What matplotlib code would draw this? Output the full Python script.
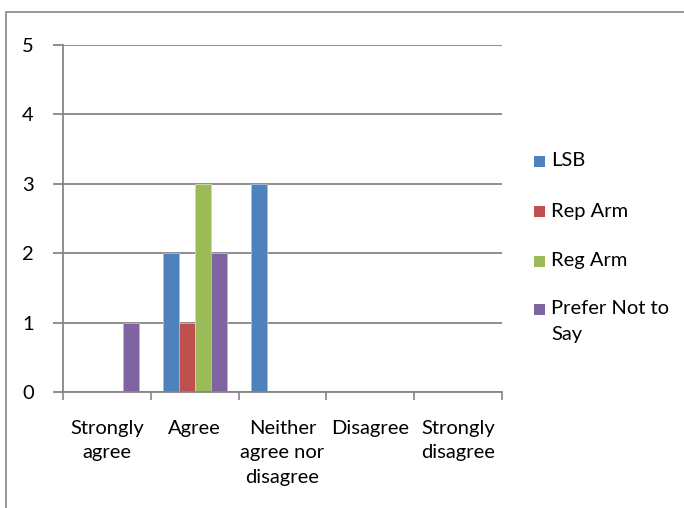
import matplotlib.pyplot as plt
import numpy as np
from matplotlib.patches import Rectangle

categories = ["Strongly\nagree", "Agree", "Neither\nagree nor\ndisagree", "Disagree", "Strongly\ndisagree"]
series_names = ["LSB", "Rep Arm", "Reg Arm", "Prefer Not to\nSay"]
lsb = [0, 2, 3, 0, 0]
rep_arm = [0, 1, 0, 0, 0]
reg_arm = [0, 3, 0, 0, 0]
prefer_not = [1, 2, 0, 0, 0]
colors = ["#4F81BD", "#C0504D", "#9BBB59", "#8064A2"]
edge_colors = ["#A7C0DE", "#E0A8A6", "#CDDDAC", "#BFB1D0"]

plt.rcParams['font.family'] = ['Lato', 'DejaVu Sans']
fs = 14.5
grey = "#868686"

fig = plt.figure(figsize=(6.84, 5.08), dpi=100)
ax = fig.add_axes([63 / 684, 1 - 392 / 508, 439 / 684, 347 / 508])

# outer chart border (cut off at right and bottom)
fig.patches.append(Rectangle((6 / 684, -0.5), 2, 0.5 + 1 - 12 / 508,
                             transform=fig.transFigure, fill=False,
                             edgecolor=grey, linewidth=1.2))

x = np.arange(len(categories))
n = 4
width = 1 / 5.5
all_series = [lsb, rep_arm, reg_arm, prefer_not]
for i, vals in enumerate(all_series):
    offs = (i - (n - 1) / 2) * width
    ax.bar(x + offs, vals, width, color=colors[i], edgecolor=edge_colors[i],
           linewidth=0.6, zorder=2)

ax.set_xlim(-0.5, len(categories) - 0.5)
ax.set_ylim(0, 5)
ax.set_yticks(range(0, 6))
ax.set_yticklabels([str(v) for v in range(0, 6)], fontsize=fs)
ax.yaxis.grid(True, color=grey, linewidth=1.3)
ax.set_axisbelow(True)

ax.set_xticks(x)
ax.set_xticklabels(categories, fontsize=fs, linespacing=1.55, va="top")
ax.set_xticks(np.arange(-0.5, len(categories)), minor=True)
ax.tick_params(axis="x", which="major", length=0, pad=20)
ax.tick_params(axis="x", which="minor", length=6, color=grey, width=1.2, direction="out")
ax.tick_params(axis="y", length=7, color=grey, width=1.3, pad=14)

for s in ["top", "right"]:
    ax.spines[s].set_visible(False)
for s in ["left", "bottom"]:
    ax.spines[s].set_color(grey)
    ax.spines[s].set_linewidth(1.3)

# legend drawn by hand: square marker plus label per series
leg_y = [161, 212, 261, 309]
for i, name in enumerate(series_names):
    yc = 1 - leg_y[i] / 508
    fig.patches.append(Rectangle((534 / 684, yc - 5.5 / 508), 11 / 684, 11 / 508,
                                 transform=fig.transFigure, facecolor=colors[i],
                                 edgecolor="none"))
    fig.text(551 / 684, yc + 9 / 508, name, fontsize=fs, va="top", ha="left",
             linespacing=1.65)

fig.savefig("out.png", dpi=100)
